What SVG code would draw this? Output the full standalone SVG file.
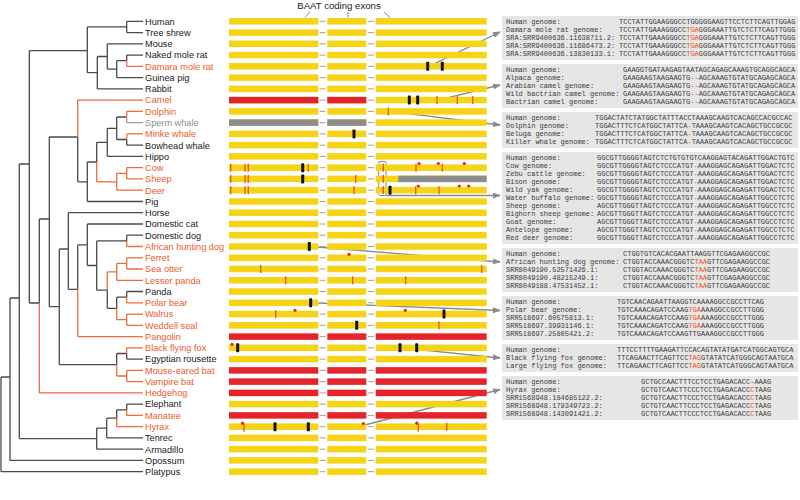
<svg xmlns="http://www.w3.org/2000/svg" width="800" height="500" viewBox="0 0 800 500">
<style>
.t{font-family:"Liberation Sans",Arial,sans-serif;font-size:9.2px;fill:#1a1a1a}
.t.o{fill:#ee5a2c}.t.g{fill:#8c8c8c}
.b{stroke:#4a4a4a;stroke-width:1.3;fill:none}
.ol{stroke:#ef6a3c;stroke-width:1.3;fill:none}
.gl{stroke:#9a9a9a;stroke-width:1.3;fill:none}
.y{fill:#f4d414}.r{fill:#e5232a}.gr{fill:#8d8d8d}
.cn{stroke:#a0a0a0;stroke-width:1;fill:none}
.k{fill:#111}.f{fill:#e8542a}.d{fill:#e8232b}
.box{fill:#e6e6e6}
.m{font-family:"Liberation Mono","DejaVu Sans Mono",monospace;font-size:7px;fill:#3c3c3c}
.red{fill:#e8542a}
.ar{stroke:#8a8a8a;stroke-width:1.3;fill:none;marker-end:url(#ah)}
.tl{stroke:#8a8a8a;stroke-width:1;fill:none}
.title{font-family:"Liberation Sans",Arial,sans-serif;font-size:9.6px;fill:#1a1a1a}
</style>
<defs>
<marker id="ah" viewBox="0 0 8 6" refX="7" refY="3" markerWidth="8" markerHeight="6" markerUnits="userSpaceOnUse" orient="auto"><path d="M0 0L8 3L0 6z" fill="#8a8a8a"/></marker>
<g id="ry"><rect class="y" x="229" y="-3.25" width="89.3" height="6.5"/><rect class="y" x="327.3" y="-3.25" width="39" height="6.5"/><rect class="y" x="375.7" y="-3.25" width="111" height="6.5"/><path class="cn" d="M319.5 0H325.5M368 0H374"/></g>
<g id="rr"><rect class="r" x="229" y="-3.25" width="89.3" height="6.5"/><rect class="r" x="327.3" y="-3.25" width="39" height="6.5"/><rect class="r" x="375.7" y="-3.25" width="111" height="6.5"/><path class="cn" d="M319.5 0H325.5M368 0H374"/></g>
<rect id="k" class="k" x="-1.5" y="-4.5" width="3" height="9" rx="0.8"/>
<rect id="f" class="f" x="-0.65" y="-4" width="1.3" height="8"/>
<circle id="d" class="d" r="1.6"/>
</defs>

<text class="title" x="339" y="9" text-anchor="middle">BAAT coding exons</text>
<path class="tl" d="M310 12L305 17.5M348 12V17.5M384 12L390 17.5"/>

<g id="connectors">
<path class="b" d="M126.7 21.3H143M126.7 32.6H143M107.3 43.8H143M126.7 55.1H143M116.7 77.6H143M97.3 88.9H143M126.7 145.2H143M107.3 156.4H143M87.3 201.5H143M68.3 212.7H143M87.3 224H143M126.7 235.2H143M126.7 291.5H143M126.7 359.1H143M126.7 404.1H143M106.7 437.9H143M96.7 449.2H143M10 460.4H143M1 471.7H143
M87.3 26.9H126.7M126.7 21.3V32.6M116.7 60.7H126.7M126.7 55.1V60.7M107.3 69.2H116.7M116.7 60.7V77.6M97.3 56.5H107.3M107.3 43.8V69.2M87.3 72.7H97.3M97.3 56.5V88.9M29.3 50.7H87.3M87.3 26.9V72.7
M19.3 164H29.3M29.3 50.7V303M29.3 303H39.3M39.3 219V303M39.3 219H49.3M49.3 137V306.7M49.3 137H77.7M77.7 137V181.8M77.7 181.8H87.3M87.3 162V201.5M87.3 162H96.7M96.7 142.3V162M96.7 142.3H107.3M107.3 128.3V156.4M107.3 128.3H116.7M116.7 117V139.5M116.7 117H126.7M116.7 139.5H126.7M126.7 139.5V145.2
M49.3 306.7H59.3M59.3 249V364.7M59.3 249H68.3M68.3 212.7V289.3M68.3 289.3H77.7M77.7 244.8V289.3M77.7 244.8H87.3M87.3 224V265.5M87.3 265.5H96.7M96.7 240.9V290.2M96.7 240.9H126.7M126.7 235.2V240.9M96.7 290.2H107.3M107.3 290.2V308.4M107.3 308.4H116.7M116.7 297.2V308.4M116.7 297.2H126.7M126.7 291.5V297.2
M59.3 364.7H116.7M116.7 353.5V364.7M116.7 353.5H126.7M126.7 353.5V359.1
M10 298H19.3M19.3 164V438.6M19.3 438.6H96.7M96.7 428.1V449.2M96.7 428.1H106.7M106.7 418.2V437.9M106.7 418.2H116.7M116.7 409.8V418.2M116.7 409.8H126.7M126.7 404.1V409.8M1 377H10M10 298V460.4M1 377V471.7"/>
<path class="ol" d="M126.7 66.3H143M77.7 100.1H143M126.7 111.4H143M126.7 133.9H143M126.7 167.7H143M126.7 178.9H143M116.7 190.2H143M126.7 246.5H143M126.7 257.8H143M126.7 269H143M116.7 280.3H143M126.7 302.8H143M126.7 314.1H143M126.7 325.3H143M77.7 336.6H143M126.7 347.8H143M126.7 370.4H143M126.7 381.6H143M39.3 392.9H143M126.7 415.4H143M116.7 426.7H143
M126.7 60.7V66.3M39.3 303V392.9M77.7 100.1V137M96.7 162V181.8M126.7 111.4V117M126.7 133.9V139.5M96.7 181.8H116.7M116.7 173.3V190.2M116.7 173.3H126.7M126.7 167.7V178.9
M77.7 289.3V336.6M126.7 240.9V246.5M107.3 271.9V290.2M107.3 271.9H116.7M116.7 263.4V280.3M116.7 263.4H126.7M126.7 257.8V269M116.7 308.4V319.7M126.7 297.2V302.8M116.7 319.7H126.7M126.7 314.1V325.3
M116.7 364.7V376M126.7 347.8V353.5M116.7 376H126.7M126.7 370.4V381.6M116.7 418.2V426.7M126.7 409.8V415.4"/>
<path class="gl" d="M126.7 122.6H143M126.7 117V122.6"/>
<rect x="378.7" y="161.5" width="7.3" height="34" rx="1" fill="none" stroke="#8a8a8a" stroke-width="1"/>
<path class="ar" d="M429 66.3L500 32"/>
<path class="ar" d="M438 100.1L500 85"/>
<path class="ar" d="M390 111.4L500 125"/>
<path class="ar" d="M386 195.5H500"/>
<path class="ar" d="M311 246.5L500 262"/>
<path class="ar" d="M312 302.8L500 310.5"/>
<path class="ar" d="M402 347.8L500 358"/>
<path class="ar" d="M365 425L500 389.5"/>
</g>

<g id="human"><text class="t" x="145" y="24.6">Human</text><use href="#ry" y="21.3"/></g>
<g id="tree-shrew"><text class="t" x="145" y="35.9">Tree shrew</text><use href="#ry" y="32.6"/></g>
<g id="mouse"><text class="t" x="145" y="47.1">Mouse</text><use href="#ry" y="43.8"/></g>
<g id="naked-mole-rat"><text class="t" x="145" y="58.4">Naked mole rat</text><use href="#ry" y="55.1"/></g>
<g id="damara-mole-rat"><text class="t o" x="145" y="69.6">Damara mole rat</text><use href="#ry" y="66.3"/><use href="#k" x="427.7" y="66.3"/><use href="#k" x="442.3" y="66.3"/></g>
<g id="guinea-pig"><text class="t" x="145" y="80.9">Guinea pig</text><use href="#ry" y="77.6"/></g>
<g id="rabbit"><text class="t" x="145" y="92.2">Rabbit</text><use href="#ry" y="88.9"/></g>
<g id="camel"><text class="t o" x="145" y="103.4">Camel</text><use href="#ry" y="100.1"/><rect class="r" x="229" y="96.85" width="89.3" height="6.5"/><rect class="r" x="327.3" y="96.85" width="39" height="6.5"/><use href="#k" x="409.3" y="100.1"/><use href="#k" x="417.7" y="100.1"/><use href="#f" x="437" y="100.1"/><use href="#f" x="457.3" y="100.1"/><use href="#f" x="472.7" y="100.1"/></g>
<g id="dolphin"><text class="t o" x="145" y="114.7">Dolphin</text><use href="#ry" y="111.4"/><use href="#f" x="388.3" y="111.4"/></g>
<g id="sperm-whale"><text class="t g" x="145" y="125.9">Sperm whale</text><use href="#ry" y="122.6"/><rect class="gr" x="229" y="119.35" width="89.3" height="6.5"/><rect class="gr" x="327.3" y="119.35" width="39" height="6.5"/></g>
<g id="minke-whale"><text class="t o" x="145" y="137.2">Minke whale</text><use href="#ry" y="133.9"/><use href="#k" x="354" y="133.9"/></g>
<g id="bowhead-whale"><text class="t" x="145" y="148.5">Bowhead whale</text><use href="#ry" y="145.2"/></g>
<g id="hippo"><text class="t" x="145" y="159.7">Hippo</text><use href="#ry" y="156.4"/></g>
<g id="cow"><text class="t o" x="145" y="171">Cow</text><use href="#ry" y="167.7"/><use href="#f" x="230.7" y="167.7"/><use href="#f" x="245" y="167.7"/><use href="#f" x="248.3" y="167.7"/><use href="#k" x="302.7" y="167.7"/><use href="#f" x="308.3" y="167.7"/><use href="#f" x="383.3" y="167.7"/><use href="#f" x="416" y="167.7"/><use href="#d" x="419" y="163.5"/><use href="#d" x="438.3" y="163.5"/><use href="#f" x="442.3" y="167.7"/><use href="#d" x="464.3" y="163.5"/></g>
<g id="sheep"><text class="t o" x="145" y="182.2">Sheep</text><use href="#ry" y="178.9"/><rect class="gr" x="398.3" y="175.65" width="88.4" height="6.5"/><use href="#f" x="230.7" y="178.9"/><use href="#f" x="245" y="178.9"/><use href="#f" x="248.3" y="178.9"/><use href="#k" x="302.7" y="178.9"/><use href="#f" x="355.7" y="178.9"/><use href="#f" x="383.3" y="178.9"/></g>
<g id="deer"><text class="t o" x="145" y="193.5">Deer</text><use href="#ry" y="190.2"/><use href="#f" x="230.7" y="190.2"/><use href="#f" x="245" y="190.2"/><use href="#f" x="248.3" y="190.2"/><use href="#f" x="354" y="190.2"/><use href="#f" x="383.3" y="190.2"/><use href="#k" x="390" y="190.2"/><use href="#f" x="415.7" y="190.2"/><use href="#d" x="418.3" y="186"/><use href="#f" x="439" y="190.2"/><use href="#d" x="459.3" y="186"/><use href="#d" x="468.7" y="186"/></g>
<g id="pig"><text class="t" x="145" y="204.8">Pig</text><use href="#ry" y="201.5"/></g>
<g id="horse"><text class="t" x="145" y="216">Horse</text><use href="#ry" y="212.7"/></g>
<g id="domestic-cat"><text class="t" x="145" y="227.3">Domestic cat</text><use href="#ry" y="224"/></g>
<g id="domestic-dog"><text class="t" x="145" y="238.5">Domestic dog</text><use href="#ry" y="235.2"/></g>
<g id="african-hunting-dog"><text class="t o" x="145" y="249.8">African hunting dog</text><use href="#ry" y="246.5"/><use href="#k" x="309.3" y="246.5"/></g>
<g id="ferret"><text class="t o" x="145" y="261.1">Ferret</text><use href="#ry" y="257.8"/><use href="#d" x="349" y="254.3"/></g>
<g id="sea-otter"><text class="t o" x="145" y="272.3">Sea otter</text><use href="#ry" y="269"/><use href="#f" x="260.7" y="269"/><use href="#f" x="481.7" y="269"/></g>
<g id="lesser-panda"><text class="t o" x="145" y="283.6">Lesser panda</text><use href="#ry" y="280.3"/><use href="#f" x="285.7" y="280.3"/><use href="#f" x="352.7" y="280.3"/><use href="#f" x="405.7" y="280.3"/></g>
<g id="panda"><text class="t" x="145" y="294.8">Panda</text><use href="#ry" y="291.5"/></g>
<g id="polar-bear"><text class="t o" x="145" y="306.1">Polar bear</text><use href="#ry" y="302.8"/><use href="#k" x="310.7" y="302.8"/></g>
<g id="walrus"><text class="t o" x="145" y="317.4">Walrus</text><use href="#ry" y="314.1"/><use href="#f" x="275.7" y="314.1"/><use href="#d" x="295" y="310.3"/><use href="#d" x="405.3" y="310.3"/><use href="#k" x="444" y="314.1"/></g>
<g id="weddell-seal"><text class="t o" x="145" y="328.6">Weddell seal</text><use href="#ry" y="325.3"/><use href="#k" x="356.7" y="325.3"/><use href="#f" x="439" y="325.3"/></g>
<g id="pangolin"><text class="t o" x="145" y="339.9">Pangolin</text><use href="#rr" y="336.6"/></g>
<g id="black-flying-fox"><text class="t o" x="145" y="351.1">Black flying fox</text><use href="#ry" y="347.8"/><use href="#d" x="232" y="344.3"/><use href="#k" x="237.7" y="347.8"/><use href="#k" x="400" y="347.8"/><use href="#k" x="416.7" y="347.8"/></g>
<g id="egyptian-rousette"><text class="t" x="145" y="362.4">Egyptian rousette</text><use href="#ry" y="359.1"/></g>
<g id="mouse-eared-bat"><text class="t o" x="145" y="373.7">Mouse-eared bat</text><use href="#rr" y="370.4"/></g>
<g id="vampire-bat"><text class="t o" x="145" y="384.9">Vampire bat</text><use href="#rr" y="381.6"/></g>
<g id="hedgehog"><text class="t o" x="145" y="396.2">Hedgehog</text><use href="#rr" y="392.9"/></g>
<g id="elephant"><text class="t" x="145" y="407.4">Elephant</text><use href="#ry" y="404.1"/></g>
<g id="manatee"><text class="t o" x="145" y="418.7">Manatee</text><use href="#rr" y="415.4"/></g>
<g id="hyrax"><text class="t o" x="145" y="430">Hyrax</text><use href="#ry" y="426.7"/><use href="#f" x="244" y="427.7"/><use href="#d" x="242.5" y="423.2"/><use href="#k" x="275" y="426.7"/><use href="#k" x="308.3" y="426.7"/><use href="#d" x="363.3" y="423.5"/><use href="#f" x="418.3" y="427.7"/><use href="#d" x="416.8" y="423.2"/><use href="#f" x="446.7" y="426.7"/></g>
<g id="tenrec"><text class="t" x="145" y="441.2">Tenrec</text><use href="#ry" y="437.9"/></g>
<g id="armadillo"><text class="t" x="145" y="452.5">Armadillo</text><use href="#ry" y="449.2"/></g>
<g id="opossum"><text class="t" x="145" y="463.7">Opossum</text><use href="#ry" y="460.4"/></g>
<g id="platypus"><text class="t" x="145" y="475">Platypus</text><use href="#ry" y="471.7"/></g>

<g id="aln-damara">
<rect class="box" x="502" y="16" width="296" height="44"/>
<text class="m" x="506" y="24.3">Human genome:</text><text class="m" x="619" y="24.3">TCCTATTGGAAGGGCCTGGGGGAAGTTCCTCTTCAGTTGGAG</text>
<text class="m" x="506" y="32.3">Damara mole rat genome:</text><text class="m" x="619" y="32.3">TCCTATTGAAAGGGCC<tspan class="red">TGA</tspan>GGGAAATTGTCTCTTCAGTTGGG</text>
<text class="m" x="506" y="40.3">SRA:SRR9400636.11638711.2:</text><text class="m" x="619" y="40.3">TCCTATTGAAAGGGCC<tspan class="red">TGA</tspan>GGGAAATTGTCTCTTCAGTTGGG</text>
<text class="m" x="506" y="48.3">SRA:SRR9400636.11686473.2:</text><text class="m" x="619" y="48.3">TCCTATTGAAAGGGCC<tspan class="red">TGA</tspan>GGGAAATTGTCTCTTCAGTTGGG</text>
<text class="m" x="506" y="56.3">SRA:SRR9400636.13830133.1:</text><text class="m" x="619" y="56.3">TCCTATTGAAAGGGCC<tspan class="red">TGA</tspan>GGGAAATTGTCTCTTCAGTTGGG</text>
</g>
<g id="aln-camel">
<rect class="box" x="502" y="64" width="296" height="44"/>
<text class="m" x="506" y="72.3">Human genome:</text><text class="m" x="623" y="72.3">GAAGGTGATAAGAGTAATAGCAGAGCAAAGTGCAGGCAGCA</text>
<text class="m" x="506" y="80.3">Alpaca genome:</text><text class="m" x="623" y="80.3">GAAGAAGTAAGAAGTG<tspan class="red">--</tspan>AGCAAAGTGTATGCAGAGCAGCA</text>
<text class="m" x="506" y="88.3">Arabian camel genome:</text><text class="m" x="623" y="88.3">GAAGAAGTAAGAAGTG<tspan class="red">--</tspan>AGCAAAGTGTATGCAGAGCAGCA</text>
<text class="m" x="506" y="96.3">Wild bactrian camel genome:</text><text class="m" x="623" y="96.3">GAAGAAGTAAGAAGTG<tspan class="red">--</tspan>AGCAAAGTGTATGCAGAGCAGCA</text>
<text class="m" x="506" y="104.3">Bactrian camel genome:</text><text class="m" x="623" y="104.3">GAAGAAGTAAGAAGTG<tspan class="red">--</tspan>AGCAAAGTGTATGCAGAGCAGCA</text>
</g>
<g id="aln-dolphin">
<rect class="box" x="502" y="112" width="296" height="36"/>
<text class="m" x="506" y="120.3">Human genome:</text><text class="m" x="595" y="120.3">TGGACTATCTATGGCTATTTACCTAAAGCAAGTCACAGCCACGCCAC</text>
<text class="m" x="506" y="128.3">Dolphin genome:</text><text class="m" x="595" y="128.3">TGGACTTTCTCATGGCTATTCA<tspan class="red">-</tspan>TAAAGCAAGTCACAGCTGCCGCGC</text>
<text class="m" x="506" y="136.3">Beluga genome:</text><text class="m" x="595" y="136.3">TGGACTTTCTCATGGCTATTCA<tspan class="red">-</tspan>TAAAGCAAGTCACAGCTGCCGCGC</text>
<text class="m" x="506" y="144.3">Killer whale genome:</text><text class="m" x="595" y="144.3">TGGACTTTCTCATGGCTATTCA<tspan class="red">-</tspan>TAAAGCAAGTCACAGCTGCCGCGC</text>
</g>
<g id="aln-ruminants">
<rect class="box" x="502" y="152" width="296" height="92"/>
<text class="m" x="506" y="160.3">Human genome:</text><text class="m" x="597" y="160.3">GGCGTTGGGGTAGTCTCTGTGTGTCAAGGAGTACAGATTGGACTGTC</text>
<text class="m" x="506" y="168.3">Cow genome:</text><text class="m" x="597" y="168.3">GGCGTTGGGGTAGTCTCCCATGT<tspan class="red">-</tspan>AAAGGAGCAGAGATTGGACTCTC</text>
<text class="m" x="506" y="176.3">Zebu cattle genome:</text><text class="m" x="597" y="176.3">GGCGTTGGGGTAGTCTCCCATGT<tspan class="red">-</tspan>AAAGGAGCAGAGATTGGACTCTC</text>
<text class="m" x="506" y="184.3">Bison genome:</text><text class="m" x="597" y="184.3">GGCGTTGGGGTAGTCTCCCATGT<tspan class="red">-</tspan>AAAGGAGCAGAGATTGGACTCTC</text>
<text class="m" x="506" y="192.3">Wild yak genome:</text><text class="m" x="597" y="192.3">GGCGTTGGGGTAGTCTCCCATGT<tspan class="red">-</tspan>AAAGGAGCAGAGATTGGACTCTC</text>
<text class="m" x="506" y="200.3">Water buffalo genome:</text><text class="m" x="597" y="200.3">GGCGTTGGGGTAGTCTCCCATGT<tspan class="red">-</tspan>AAAGGAGCAGAGATTGGCCTCTC</text>
<text class="m" x="506" y="208.3">Sheep genome:</text><text class="m" x="597" y="208.3">AGCGTTGGGTTAGTCTCCCATGT<tspan class="red">-</tspan>AAAGGAGCAGAGATTGGCCTCTC</text>
<text class="m" x="506" y="216.3">Bighorn sheep genome:</text><text class="m" x="597" y="216.3">AGCGTTGGGTTAGTCTCCCATGT<tspan class="red">-</tspan>AAAGGAGCAGAGATTGGCCTCTC</text>
<text class="m" x="506" y="224.3">Goat genome:</text><text class="m" x="597" y="224.3">AGCGTTGGGTTAGTCTCCCATGT<tspan class="red">-</tspan>AAAGGAGCAGAGATTGGCCTCTC</text>
<text class="m" x="506" y="232.3">Antelope genome:</text><text class="m" x="597" y="232.3">AGCGTTGGGTTAGTCTCCCATGT<tspan class="red">-</tspan>AAAGGAGCAGAGATTGGCCTCTC</text>
<text class="m" x="506" y="240.3">Red deer genome:</text><text class="m" x="597" y="240.3">GGCGTTGGGTTAGTCTCCCATGT<tspan class="red">-</tspan>AAAGGAGCAGAGATTGGCCTCTC</text>
</g>
<g id="aln-hunting-dog">
<rect class="box" x="502" y="248" width="296" height="44"/>
<text class="m" x="506" y="256.3">Human genome:</text><text class="m" x="623" y="256.3">CTGGTGTCACACGAATTAAGGTTCGAGAAGGCCGC</text>
<text class="m" x="506" y="264.3">African hunting dog genome:</text><text class="m" x="623" y="264.3">CTGGTACCAAACGGGTC<tspan class="red">TAA</tspan>GTTCGAGAAGGCCGC</text>
<text class="m" x="506" y="272.3">SRR8049190.52571426.1:</text><text class="m" x="623" y="272.3">CTGGTACCAAACGGGTC<tspan class="red">TAA</tspan>GTTCGAGAAGGCCGC</text>
<text class="m" x="506" y="280.3">SRR8049190.48215249.1:</text><text class="m" x="623" y="280.3">CTGGTACCAAACGGGTC<tspan class="red">TAA</tspan>GTTCGAGAAGGCCGC</text>
<text class="m" x="506" y="288.3">SRR8049188.47531452.1:</text><text class="m" x="623" y="288.3">CTGGTACCAAACGGGTC<tspan class="red">TAA</tspan>GTTCGAGAAGGCCGC</text>
</g>
<g id="aln-polar-bear">
<rect class="box" x="502" y="296" width="296" height="44"/>
<text class="m" x="506" y="304.3">Human genome:</text><text class="m" x="617" y="304.3">TGTCAACAGAATTAAGGTCAAAAGGCCGCCTTCAG</text>
<text class="m" x="506" y="312.3">Polar bear genome:</text><text class="m" x="617" y="312.3">TGTCAAACAGATCCAAG<tspan class="red">TGA</tspan>AAAGGCCGCCTTGGG</text>
<text class="m" x="506" y="320.3">SRR518697.60575813.1:</text><text class="m" x="617" y="320.3">TGTCAAACAGATCCAAG<tspan class="red">TGA</tspan>AAAGGCCGCCTTGGG</text>
<text class="m" x="506" y="328.3">SRR518697.39931146.1:</text><text class="m" x="617" y="328.3">TGTCAAACAGATCCAAG<tspan class="red">TGA</tspan>AAAGGCCGCCTTGGG</text>
<text class="m" x="506" y="336.3">SRR518697.25805421.2:</text><text class="m" x="617" y="336.3">TGTCAAACAGATCCAAGTTGAAAGGCCGCCTTGGG</text>
</g>
<g id="aln-flying-fox">
<rect class="box" x="502" y="344" width="296" height="28"/>
<text class="m" x="506" y="352.3">Human genome:</text><text class="m" x="617" y="352.3">TTTCCTTTTGAAGATTCCACAGTATATGATCATGGCAGTGCA</text>
<text class="m" x="506" y="360.3">Black flying fox genome:</text><text class="m" x="617" y="360.3">TTCAGAACTTCAGTTCC<tspan class="red">TAG</tspan>GTATATCATGGGCAGTAATGCA</text>
<text class="m" x="506" y="368.3">Large flying fox genome:</text><text class="m" x="617" y="368.3">TTCAGAACTTCAGTTCC<tspan class="red">TAG</tspan>GTATATCATGGGCAGTAATGCA</text>
</g>
<g id="aln-hyrax">
<rect class="box" x="502" y="376" width="296" height="44"/>
<text class="m" x="506" y="384.3">Human genome:</text><text class="m" x="641" y="384.3">GCTGCCAACTTTCCTCCTGAGACACC-AAAG</text>
<text class="m" x="506" y="392.3">Hyrax genome:</text><text class="m" x="641" y="392.3">GCTGTCAACTTCCCTCCTGAGACACC<tspan class="red">C</tspan>TAAG</text>
<text class="m" x="506" y="400.3">SRR1568948.184685122.2:</text><text class="m" x="641" y="400.3">GCTGTCAACTTCCCTCCTGAGACACC<tspan class="red">C</tspan>TAAG</text>
<text class="m" x="506" y="408.3">SRR1568948.179349723.2:</text><text class="m" x="641" y="408.3">GCTGTCAACTTCCCTCCTGAGACACC<tspan class="red">C</tspan>TAAG</text>
<text class="m" x="506" y="416.3">SRR1568948.143091421.2:</text><text class="m" x="641" y="416.3">GCTGTCAACTTCCCTCCTGAGACACC<tspan class="red">C</tspan>TAAG</text>
</g>
</svg>
